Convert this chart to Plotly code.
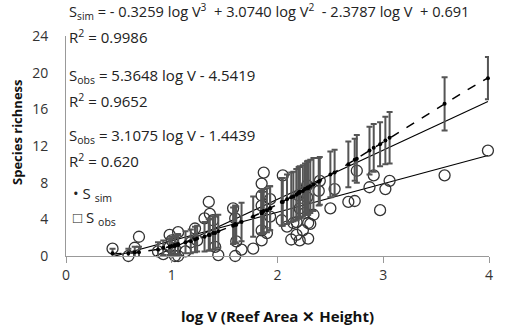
import numpy as np
import plotly.graph_objects as go

# observed species richness (open circles)
obs_x = [0.44, 0.59, 0.65, 0.69, 0.87, 0.92, 0.98, 0.98, 1.00, 1.03, 1.03, 1.06, 1.06, 1.13,
         1.18, 1.22, 1.24, 1.31, 1.35, 1.36, 1.39, 1.41, 1.44, 1.58, 1.60, 1.60, 1.61, 1.66,
         1.77, 1.85, 1.85, 1.85, 1.85, 1.85, 1.87, 1.90, 1.93, 1.93, 2.04, 2.05, 2.09, 2.13,
         2.15, 2.18, 2.18, 2.20, 2.21, 2.21, 2.24, 2.26, 2.28, 2.28, 2.29, 2.29, 2.31, 2.34,
         2.39, 2.40, 2.50, 2.54, 2.67, 2.73, 2.75, 2.87, 2.91, 2.97, 3.02, 3.06, 3.58, 3.99]
obs_y = [0.8, 0.0, 0.9, 2.1, 0.5, 0.2, 2.3, 1.0, 1.7, 0.0, 0.8, 2.6, 0.0, 0.5,
         1.5, 3.0, 1.7, 4.1, 5.9, 4.6, 3.9, 1.0, 0.1, 5.2, 4.1, 0.0, 1.6, 0.7,
         0.8, 1.7, 2.8, 5.5, 6.6, 7.9, 9.1, 2.5, 6.2, 4.3, 3.9, 8.8, 3.2, 1.8,
         3.6, 2.3, 3.7, 6.6, 1.7, 5.2, 2.8, 4.7, 7.7, 6.4, 1.9, 3.6, 3.5, 4.5,
         7.1, 8.2, 5.2, 7.3, 5.9, 6.0, 9.3, 7.5, 8.8, 5.0, 7.3, 8.2, 8.8, 11.5]

# simulated species richness (mean, with error bars)
sim_y = [0.3, 0.3, 0.4, 0.4, 0.7, 0.9, 1.0, 1.0, 1.1, 1.2, 1.1, 1.3, 1.2, 1.5,
         1.6, 1.8, 1.9, 2.1, 2.3, 2.3, 2.5, 2.5, 2.7, 3.3, 3.4, 3.5, 3.4, 3.7,
         4.3, 4.7, 4.8, 4.7, 4.8, 4.7, 4.9, 5.0, 5.2, 5.2, 5.9, 5.9, 6.2, 6.4,
         6.5, 6.7, 6.7, 6.9, 6.9, 7.0, 7.1, 7.3, 7.4, 7.4, 7.5, 7.4, 7.6, 7.8,
         8.1, 8.2, 8.9, 9.1, 10.0, 10.5, 10.6, 11.5, 11.8, 12.2, 12.6, 12.9, 16.6, 19.4]
sim_err = [0.5, 0.5, 0.6, 0.6, 0.8, 0.8, 0.9, 0.9, 1.0, 1.0, 1.0, 1.1, 1.1, 1.2,
           1.3, 1.4, 1.4, 1.6, 1.7, 1.7, 1.8, 1.8, 1.8, 2.0, 2.0, 2.0, 2.0, 2.1,
           2.2, 2.3, 2.3, 2.3, 2.3, 2.3, 2.4, 2.4, 2.4, 2.4, 2.6, 2.6, 2.7, 2.7,
           2.7, 2.8, 2.8, 2.8, 2.8, 2.8, 2.8, 2.8, 2.9, 2.9, 2.9, 2.9, 2.9, 2.9,
           2.6, 2.6, 2.5, 2.5, 2.5, 2.3, 2.6, 2.6, 2.6, 2.4, 2.6, 2.8, 2.9, 2.3]

# trendline coefficients (from the equations on the chart)
cubic_coef = [-0.3259, 3.0740, -2.3787, 0.691]   # S_sim
lin_sim_coef = [5.3648, -4.5419]                 # upper solid line
lin_obs_coef = [3.1075, -1.4439]                 # lower solid line

x_ticks = [0, 1, 2, 3, 4]
y_ticks = [0, 4, 8, 12, 16, 20, 24]

fig = go.Figure()

xc = np.linspace(0.44, 3.99, 120)
fig.add_trace(go.Scatter(x=xc, y=np.polyval(cubic_coef, xc), mode="lines",
                         line=dict(color="black", width=1.5, dash="dash"), hoverinfo="skip"))
xl1 = np.array([0.85, 3.99])
fig.add_trace(go.Scatter(x=xl1, y=np.polyval(lin_sim_coef, xl1), mode="lines",
                         line=dict(color="black", width=1.1), hoverinfo="skip"))
xl2 = np.array([0.44, 3.99])
fig.add_trace(go.Scatter(x=xl2, y=np.polyval(lin_obs_coef, xl2), mode="lines",
                         line=dict(color="black", width=1.1), hoverinfo="skip"))

fig.add_trace(go.Scatter(x=obs_x, y=obs_y, mode="markers", cliponaxis=False,
                         marker=dict(symbol="circle-open", size=11, color="#333",
                                     line=dict(width=1.3, color="#333"))))
fig.add_trace(go.Scatter(x=obs_x, y=sim_y, mode="markers", cliponaxis=False,
                         error_y=dict(type="data", array=sim_err, color="#555",
                                      thickness=2, width=3),
                         marker=dict(symbol="circle", size=4, color="black")))

fnt = "Open Sans"
ann = []
def txt(x, y, s, size=14):
    ann.append(dict(xref="paper", yref="paper", x=x, y=y, xanchor="left", yanchor="middle",
                    text=s, showarrow=False, font=dict(family=fnt, size=size, color="#222")))

H, W = 331, 510
def px2paper(px, py):
    return (px - 66) / (489 - 66), (256 - py) / (256 - 36)

for s, py, sz in [("S<sub>sim</sub> = - 0.3259 log V<sup>3</sup>  + 3.0740 log V<sup>2</sup>  - 2.3787 log V  + 0.691", 12, 14.6),
                  ("R<sup>2</sup> = 0.9986", 36, 15),
                  ("S<sub>obs</sub> = 5.3648 log V - 4.5419", 76, 15),
                  ("R<sup>2</sup> = 0.9652", 100, 15),
                  ("S<sub>obs</sub> = 3.1075 log V - 1.4439", 136, 15),
                  ("R<sup>2</sup> = 0.620", 160, 15)]:
    x, y = px2paper(67, py)
    txt(x, y, s, sz)

for s, py in [("• S <sub>sim</sub>", 194), ("□ S <sub>obs</sub>", 218)]:
    x, y = px2paper(71, py)
    txt(x, y, s, 15)

# y-axis title as rotated annotation
yx, yy = px2paper(17, 132)
ann.append(dict(xref="paper", yref="paper", x=yx, y=yy, xanchor="center", yanchor="middle",
                text="<b>Species richness</b>", textangle=-90, showarrow=False,
                font=dict(family=fnt, size=13, color="#111")))

fig.update_layout(
    annotations=ann,
    width=W, height=H, showlegend=False,
    margin=dict(l=66, r=21, t=36, b=75),
    plot_bgcolor="white", paper_bgcolor="white",
    font=dict(family=fnt, size=14, color="#333"),
    xaxis=dict(range=[0, 4], tickvals=x_ticks, showgrid=False, zeroline=False,
               automargin=False,
               showline=True, linecolor="#999", linewidth=1, ticks="outside",
               ticklen=6, tickcolor="#999", tickfont=dict(size=14, color="#333"),
               title=dict(text="<b>log V (Reef Area ✕ Height)</b>", font=dict(size=15, color="#111"),
                          standoff=28)),
    yaxis=dict(range=[0, 24], tickvals=y_ticks, showgrid=False, zeroline=False,
               automargin=False,
               showline=True, linecolor="#999", linewidth=1, ticks="",
               ticklabelstandoff=14, tickfont=dict(size=14, color="#333")),
)

fig.write_html("out.html", config={"displayModeBar": False},
               post_script="document.body.style.margin='0';document.body.style.overflow='hidden';")
